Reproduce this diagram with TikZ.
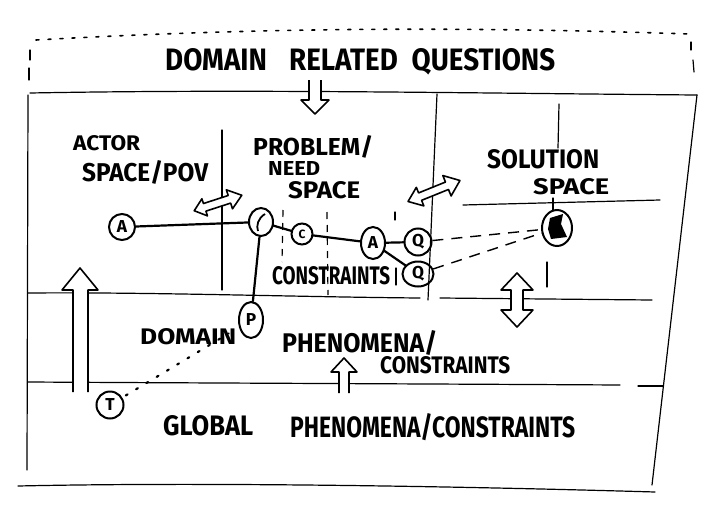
\documentclass[tikz,border=0pt]{standalone}
\usepackage{fontspec}
\setmainfont{Fira Sans}
\usetikzlibrary{shapes.geometric}
% scale a label to a given width and cap height (in pt)
\newcommand\fitlabel[3]{\resizebox{#1pt}{#2pt}{\bfseries #3}}
\begin{document}
\begin{tikzpicture}[x=1pt,y=-1pt,
  frame/.style={line width=1.2pt, line cap=round},
  lbl/.style={inner sep=0pt, anchor=north west},
  pt/.style={draw, line width=2pt, inner sep=0pt, font=\bfseries\LARGE},
  ring/.style={pt, circle},
  oval/.style={pt, ellipse},
  link/.style={line width=2.2pt, line cap=round},
  hollow/.style={line width=1.6pt, line join=round, fill=white},
  dashlink/.style={line width=1.4pt, dash pattern=on 11pt off 8pt},
  guide/.style={line width=1.2pt, dash pattern=on 7pt off 6pt},
]
\fill[white] (0,0) rectangle (701,506);
\useasboundingbox (0,0) rectangle (701,506);

% ---- frame ----
\draw[line width=1.6pt, dash pattern=on 3pt off 9pt, line cap=round]
  (36,40) .. controls (250,28) and (450,26) .. (690,34);
\draw[frame] (30,50) -- (30,60);
\draw[frame] (29,68) -- (29,80);
\draw[frame] (691,42) -- (691,50);
\draw[frame] (693,60) -- (694,72);
\draw[frame] (30,93) .. controls (250,89) and (450,93) .. (697,95);
\draw[frame] (28,95) -- (27,470);
\draw[frame] (697,95) -- (652,485);
\draw[frame] (18,486) .. controls (200,482) and (450,486) .. (655,492);
\draw[frame] (28,293) .. controls (150,292) and (300,297) .. (420,298);
\draw[frame] (440,298) -- (652,300);
\draw[frame] (28,382) .. controls (200,383) and (450,384) .. (620,385);
\draw[frame] (638,386) -- (663,386);
\draw[frame] (463,205) -- (660,200);
\draw[frame] (222,130) -- (222,290);
\draw[frame] (437,94) -- (428,300);
\draw[frame] (559,104) -- (558,148);
\draw[frame] (553,198) -- (553,210);
\draw[frame] (547,262) -- (547,287);

% ---- labels ----
\node[lbl] (tq)  at (165,48)  {\fitlabel{390}{22}{DOMAIN\hspace{0.8em}RELATED\hspace{0.5em}QUESTIONS}};
\node[lbl] (ta1) at (73,135)  {\fitlabel{67}{15}{ACTOR}};
\node[lbl] (ta2) at (82,160)  {\fitlabel{126}{21}{SPACE/POV}};
\node[lbl] (tp1) at (253,135) {\fitlabel{120}{20}{PROBLEM/}};
\node[lbl] (tp2) at (268,161) {\fitlabel{52}{14}{NEED}};
\node[lbl] (tp3) at (288,181) {\fitlabel{72}{17}{SPACE}};
\node[lbl] (tc1) at (272,266) {\fitlabel{118}{18}{CONSTRAINTS}};
\node[lbl] (ts1) at (487,149) {\fitlabel{112}{19}{SOLUTION}};
\node[lbl] (ts2) at (533,178) {\fitlabel{76}{16}{SPACE}};
\node[lbl] (td1) at (140,328) {\fitlabel{96}{16}{DOMAIN}};
\node[lbl] (td2) at (282,330) {\fitlabel{155}{22}{PHENOMENA/}};
\node[lbl] (td3) at (380,356) {\fitlabel{130}{17}{CONSTRAINTS}};
\node[lbl] (tg1) at (163,415) {\fitlabel{90}{20}{GLOBAL}};
\node[lbl] (tg2) at (290,413) {\fitlabel{285}{24}{PHENOMENA/CONSTRAINTS}};

% ---- hollow arrows ----
\draw[hollow] (309,80) -- (309,100) -- (301,100) -- (315,114) -- (329,100) -- (321,100) -- (321,80);
\draw[hollow] (73,392) -- (73,290) -- (62,290) -- (80,268) -- (98,290) -- (88,290) -- (88,392);
\draw[hollow] (339,393) -- (339,372) -- (331,372) -- (344,358) -- (357,372) -- (349,372) -- (349,393);
\draw[hollow] (517,273) -- (533,290) -- (523,290) -- (523,310) -- (533,310) -- (517,327)
  -- (501,310) -- (511,310) -- (511,290) -- (501,290) -- cycle;
\draw[hollow, shift={(218,203)}, rotate=18]
  (-25,0) -- (-14,-9) -- (-14,-4) -- (12,-4) -- (12,-10) -- (25,0) -- (12,10) -- (12,4) -- (-14,4) -- (-14,9) -- cycle;
\draw[hollow, shift={(434,191)}, rotate=22]
  (-28,0) -- (-15,-10) -- (-15,-4) -- (14,-4) -- (14,-11) -- (28,0) -- (14,11) -- (14,4) -- (-15,4) -- (-15,10) -- cycle;

% ---- constraint guides ----
\draw[guide] (283,210) -- (282,262);
\draw[guide] (327,212) -- (328,295);
\draw[frame] (395,212) -- (395,220);
\draw[frame] (396,268) -- (396,285);

% ---- points ----
\node[ring, minimum size=26pt] (A) at (122,227) {A};
\node[oval, minimum width=24pt, minimum height=28pt] (O) at (261,222) {};
\draw[line width=1.8pt] (265,214) .. controls (258,218) and (256,226) .. (258,231);
\node[ring, minimum size=21pt, font=\bfseries\large] (C) at (302,234) {C};
\node[oval, minimum width=24pt, minimum height=32pt] (F) at (373,243) {A};
\node[ring, minimum size=27pt] (Q) at (418,242) {Q};
\node[oval, minimum width=31pt, minimum height=25pt] (R) at (418,274) {Q};
\node[oval, minimum width=30pt, minimum height=36pt] (S) at (557,228) {};
\fill (550,218) -- (563,214) -- (561,224) -- (567,237) -- (551,239) -- (548,229) -- cycle;
\node[oval, minimum width=24pt, minimum height=36pt] (P) at (251,320) {P};
\node[ring, minimum size=27pt] (T) at (110,405) {T};

% ---- connectors ----
\draw[link] (A) -- (O);
\draw[link] (O) -- (C);
\draw[link] (C) -- (F);
\draw[link] (F) -- (Q);
\draw[link] (F) -- (R);
\draw[link] (O) -- (P);
\draw[dashlink] (Q) -- (S);
\draw[dashlink] (R) -- (S);
\draw[line width=2.2pt, dash pattern=on 2pt off 10pt, line cap=round, shorten >=12pt, shorten <=4pt] (T) -- (P);
\end{tikzpicture}
\end{document}
